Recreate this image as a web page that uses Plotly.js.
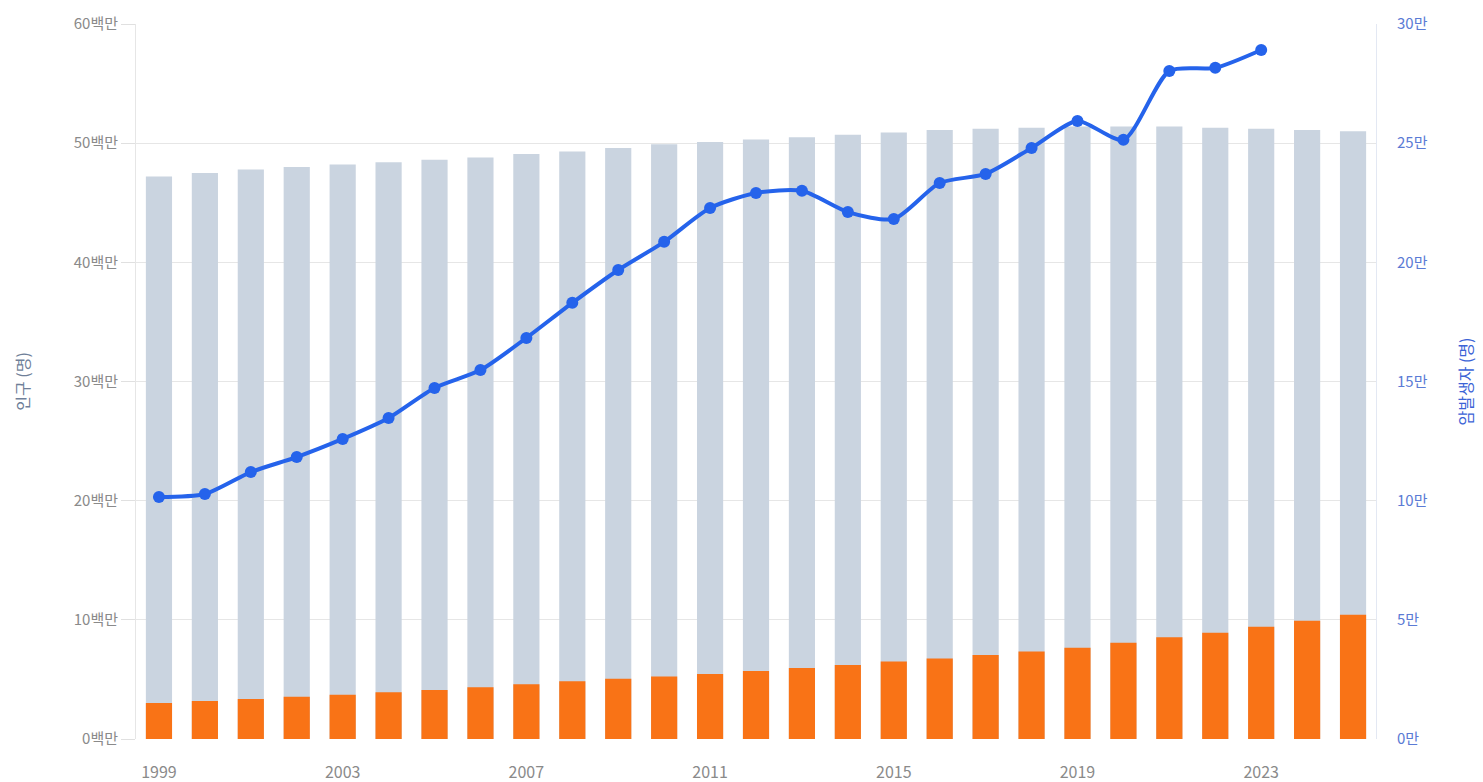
<!DOCTYPE html>
<html>
<head>
<meta charset="utf-8">
<script src="https://cdn.plot.ly/plotly-3.0.1.min.js"></script>
<style>
html,body{margin:0;padding:0;background:#fff;}
#chart{width:1483px;height:782px;}
</style>
</head>
<body>
<div id="chart"></div>
<script>
// Data
var years = [1999,2000,2001,2002,2003,2004,2005,2006,2007,2008,2009,2010,2011,2012,2013,2014,2015,2016,2017,2018,2019,2020,2021,2022,2023,2024,2025];
var population = [47.2,47.5,47.8,48.0,48.2,48.4,48.6,48.8,49.1,49.3,49.6,49.9,50.1,50.3,50.5,50.7,50.9,51.1,51.2,51.3,51.4,51.4,51.4,51.3,51.2,51.1,51.0].map(function(v){return v*1e6;});
var elderly = [3.02,3.19,3.36,3.55,3.72,3.92,4.12,4.35,4.6,4.85,5.05,5.25,5.45,5.7,5.95,6.2,6.5,6.75,7.05,7.35,7.65,8.08,8.53,8.92,9.43,9.93,10.43].map(function(v){return v*1e6;});
var cancerYears = [1999,2000,2001,2002,2003,2004,2005,2006,2007,2008,2009,2010,2011,2012,2013,2014,2015,2016,2017,2018,2019,2020,2021,2022,2023];
var cancer = [101500,102800,112000,118300,125900,134700,147300,154800,168300,183000,196800,208600,222800,229100,230000,221100,218200,233300,237100,248000,259300,251400,280300,281600,289100];
var leftTickVals = [0,10e6,20e6,30e6,40e6,50e6,60e6];
var leftTickText = ["0백만","10백만","20백만","30백만","40백만","50백만","60백만"];
var rightTickVals = [0,50000,100000,150000,200000,250000,300000];
var rightTickText = ["0만","5만","10만","15만","20만","25만","30만"];
var xTickVals = [1999,2003,2007,2011,2015,2019,2023];

var traces = [
  {type:'bar', x:years, y:population, name:'인구', marker:{color:'#cad4e0'}, width:0.57, hoverinfo:'skip'},
  {type:'bar', x:years, y:elderly, name:'고령인구', marker:{color:'#f97316'}, width:0.57, hoverinfo:'skip'},
  {type:'scatter', mode:'lines+markers', x:cancerYears, y:cancer, yaxis:'y2', name:'암발생자',
   line:{color:'#2563eb', width:4, shape:'spline', smoothing:0.7},
   marker:{color:'#2563eb', size:12}, hoverinfo:'skip'}
];

var layout = {
  width:1483, height:782,
  margin:{l:136, r:107, t:24, b:43},
  paper_bgcolor:'#fff', plot_bgcolor:'#fff',
  barmode:'overlay',
  showlegend:false,
  font:{family:'"Noto Sans CJK KR", "Noto Sans", sans-serif', size:15, color:'#888'},
  xaxis:{
    range:[1998.5,2025.5], tickvals:xTickVals, ticktext:xTickVals.map(String),
    showgrid:false, zeroline:false, showline:false,
    ticks:'outside', ticklen:19, tickcolor:'rgba(0,0,0,0)',
    tickfont:{size:16, color:'#8a8a8a'}
  },
  yaxis:{
    range:[0,60e6], tickvals:leftTickVals, ticktext:leftTickText,
    showgrid:true, gridcolor:'#e6e6e6', gridwidth:1, zeroline:false,
    showline:true, linecolor:'#e6e6e6', linewidth:1,
    ticks:'outside', ticklen:14, tickcolor:'#e0e0e0',
    tickfont:{size:15, color:'#8a8a8a'},
    title:{text:'인구 (명)', font:{size:16, color:'#6f7f99'}, standoff:40}
  },
  yaxis2:{
    range:[0,300000], tickvals:rightTickVals, ticktext:rightTickText,
    overlaying:'y', side:'right',
    showgrid:false, zeroline:false,
    showline:true, linecolor:'#e3e8f3', linewidth:1,
    ticks:'outside', ticklen:17, tickcolor:'rgba(0,0,0,0)',
    tickfont:{size:15, color:'#5b7bd5'},
    title:{text:'암발생자 (명)', font:{size:16, color:'#3b63d6'}, standoff:34}
  },
  hovermode:false
};

Plotly.newPlot('chart', traces, layout, {displayModeBar:false, staticPlot:true});
</script>
</body>
</html>
